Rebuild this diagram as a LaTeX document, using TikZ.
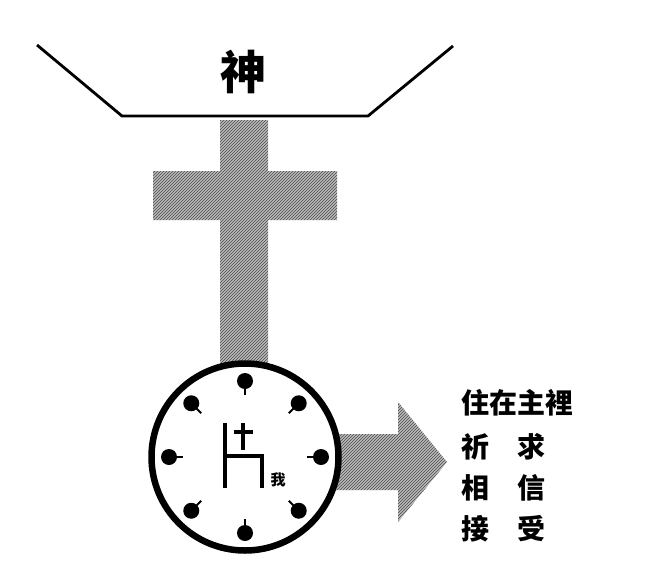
\documentclass[tikz,border=0pt]{standalone}
\usepackage{fontspec}
\newfontfamily\cjk{Noto Sans CJK TC}
\usetikzlibrary{patterns,calc}
\tikzset{
  hatch/.style={preaction={fill=gray!55}, pattern=north east lines, pattern color=black!70},
  traylink/.style={line width=2.8pt, line join=miter},
  dot/.style={circle, fill=black, inner sep=0pt, minimum size=16pt},
  tick/.style={line width=1.8pt},
  sym/.style={line width=3.4pt},
  side/.style={font=\cjk\bfseries\fontsize{28}{28}\selectfont, anchor=west, inner sep=0pt}
}
\begin{document}
\begin{tikzpicture}[x=1pt, y=-1pt]
\useasboundingbox (0,0) rectangle (656,566);
% cross
\path[hatch] (220,120) -- (268,120) -- (268,171) -- (337,171) -- (337,220) -- (268,220)
  -- (268,365) -- (220,365) -- (220,220) -- (153,220) -- (153,171) -- (220,171) -- cycle;
% arrow
\path[hatch] (320,434) -- (398,434) -- (398,402) -- (447,462) -- (398,522) -- (398,490) -- (320,490) -- cycle;
% tray
\coordinate (t1) at (37,45);
\coordinate (t2) at (122,116);
\coordinate (t3) at (368,116);
\coordinate (t4) at (453,46);
\draw[traylink] (t1) -- (t2) -- (t3) -- (t4);
\node[font=\cjk\bfseries\fontsize{46}{46}\selectfont, inner sep=0pt] (god) at (243,72) {神};
% circle
\node[circle, draw, line width=6.5pt, fill=white, minimum size=187pt, inner sep=0pt] (me) at (245,457) {};
\foreach \a in {0,45,...,315}{
  \node[dot] (d\a) at ($(me.center)+(\a:76)$) {};
  \draw[tick] (d\a.center) -- ($(me.center)+(\a:62)$);
}
% central symbol
\coordinate (s1) at (225,423);
\coordinate (s2) at (225,488);
\coordinate (s3) at (225,456);
\coordinate (s4) at (262,456);
\coordinate (s5) at (262,488);
\draw[sym] (s1) -- (s2);
\draw[sym] (s3) -- (s4) -- (s5);
\draw[sym] (243,423) -- (243,450);
\draw[sym] (234,432) -- (253,432);
\node[font=\cjk\bfseries\fontsize{15}{15}\selectfont, inner sep=0pt] (wo) at (278,480) {我};
% side text
\node[side] (l1) at (461,403) {住在主裡};
\node[side] (l2) at (461,447) {祈　求};
\node[side] (l3) at (461,488) {相　信};
\node[side] (l4) at (461,529) {接　受};
\end{tikzpicture}
\end{document}
